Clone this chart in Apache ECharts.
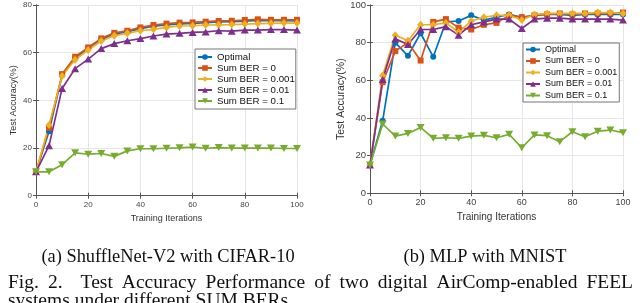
<!DOCTYPE html>
<html><head><meta charset="utf-8">
<script src="https://cdn.jsdelivr.net/npm/echarts@6/dist/echarts.min.js"></script>
<style>html,body{margin:0;padding:0;background:#fff}#c{width:640px;height:303px}</style>
</head><body><div id="c"></div>
<script>
// ---- data ----
const iters = [0, 5, 10, 15, 20, 25, 30, 35, 40, 45, 50, 55, 60, 65, 70, 75, 80, 85, 90, 95, 100];
const seriesNames = ['Optimal', 'Sum BER = 0', 'Sum BER = 0.001', 'Sum BER = 0.01', 'Sum BER = 0.1'];
const xTicks = [0, 20, 40, 60, 80, 100];
const leftYTicks = [0, 20, 40, 60, 80];
const rightYTicks = [0, 20, 40, 60, 80, 100];

// (a) ShuffleNet-V2 with CIFAR-10
const leftOptimal = [10, 27, 50.5, 57.8, 61.8, 65.5, 67.8, 68.8, 70.1, 71.1, 71.7, 72.1, 72.3, 72.6, 72.9, 73.0, 73.2, 73.5, 73.4, 73.4, 73.3];
const leftBER0    = [10, 28.5, 51, 58.3, 62.2, 66, 68.3, 69.2, 70.6, 71.6, 72.2, 72.6, 72.7, 73, 73.3, 73.4, 73.7, 74, 73.8, 73.8, 73.8];
const leftBER0001 = [10, 29.7, 50.2, 57, 61.1, 64.9, 67.1, 68.1, 69.2, 69.8, 70.6, 71.2, 71.3, 71.6, 71.7, 71.8, 72, 72.2, 72.3, 72.4, 72.4];
const leftBER001  = [10, 21, 45, 53.3, 57.3, 61.7, 63.8, 65, 65.9, 67, 67.8, 68.1, 68.5, 68.7, 69.2, 69, 69.5, 69.5, 69.7, 69.7, 69.5];
const leftBER01   = [10, 10, 13, 18, 17.4, 17.7, 16.5, 18.8, 19.7, 19.7, 19.9, 20.1, 20.4, 19.9, 20.2, 20, 20, 20, 20, 19.8, 19.8];

// (b) MLP with MNIST
const rightOptimal = [15, 38.5, 80, 73, 85, 72.5, 91, 91.5, 94.5, 92, 93.5, 95, 93.5, 94.5, 95, 95, 94.5, 95, 95, 95, 95];
const rightBER0    = [15, 59, 75.5, 80, 70.5, 91, 92.5, 88, 87, 89.5, 90.5, 94.5, 93.5, 94.5, 95, 95.5, 95, 95.5, 95.5, 95.5, 96];
const rightBER0001 = [15, 62.5, 84, 81, 89.5, 89.5, 90.5, 85.5, 91.5, 93.5, 94.5, 94.5, 92, 95, 95.5, 95.5, 95.5, 95.5, 96, 96, 95.5];
const rightBER001  = [15, 60.5, 82, 79, 87, 87, 88.5, 84, 89.5, 91, 92.5, 92.5, 87.5, 92.5, 93, 93, 92.5, 92.5, 92.5, 92.5, 92];
const rightBER01   = [15, 36.8, 30.4, 31.8, 35, 29.2, 29.5, 29.2, 30.4, 30.8, 29.5, 31.3, 24.2, 31, 30.6, 27.4, 32.7, 30, 33, 33.6, 32.2];

const captionA = '(a) ShuffleNet-V2 with CIFAR-10';
const captionB = '(b) MLP with MNIST';
const figLine1 = ['Fig.', '2.', 'Test', 'Accuracy', 'Performance', 'of', 'two', 'digital', 'AirComp-enabled', 'FEEL'];
const figLine2 = 'systems under different SUM BERs.';

const colors = ['#0072BD', '#D95319', '#EDB120', '#7E2F8E', '#77AC30'];
const symbols = ['circle', 'rect', 'diamond', 'triangle', 'path://M0,0L10,0L5,9Z'];
const symSizes = [6, 6, [7, 8], [8, 7], [8, 7]];

const leftData = [leftOptimal, leftBER0, leftBER0001, leftBER001, leftBER01];
const rightData = [rightOptimal, rightBER0, rightBER0001, rightBER001, rightBER01];

const FONT = '"Liberation Sans", Arial, sans-serif';
const SERIF = '"Liberation Serif", serif';

function mkSeries(arr, gi) {
  return arr.map((vals, k) => ({
    name: seriesNames[k],
    type: 'line',
    xAxisIndex: gi * 2,
    yAxisIndex: gi * 2,
    data: vals.map((v, i) => [iters[i], v]),
    symbol: symbols[k],
    symbolSize: symSizes[k],
    showSymbol: true,
    animation: false,
    lineStyle: { color: colors[k], width: 1.7 },
    itemStyle: { color: colors[k] },
    emphasis: { disabled: true }
  }));
}

function xAxes(gi, fs, nameFs, nameGap) {
  const axisColor = '#555';
  return [{
    gridIndex: gi, type: 'value', min: 0, max: 100, interval: 20, position: 'bottom',
    axisLine: { show: true, lineStyle: { color: axisColor, width: 1 } },
    axisTick: { show: true, inside: true, length: 3, lineStyle: { color: axisColor } },
    axisLabel: { fontSize: fs, color: '#444', margin: 5, fontFamily: FONT,
      formatter: v => xTicks.includes(v) ? String(v) : '' },
    splitLine: { show: true, lineStyle: { color: '#e6e6e6', width: 1 } },
    name: 'Training Iterations', nameLocation: 'middle', nameGap: nameGap,
    nameTextStyle: { fontSize: nameFs, color: '#333', fontFamily: FONT }
  }, {
    gridIndex: gi, type: 'value', min: 0, max: 100, interval: 20, position: 'top',
    axisLine: { show: true, lineStyle: { color: axisColor, width: 1 } },
    axisTick: { show: true, inside: true, length: 3, lineStyle: { color: axisColor } },
    axisLabel: { show: false }, splitLine: { show: false }
  }];
}

function yAxes(gi, max, ticks, fs, nameFs, nameGap) {
  const axisColor = '#555';
  return [{
    gridIndex: gi, type: 'value', min: 0, max: max, interval: 20, position: 'left',
    axisLine: { show: true, lineStyle: { color: axisColor, width: 1 } },
    axisTick: { show: true, inside: true, length: 3, lineStyle: { color: axisColor } },
    axisLabel: { fontSize: fs, color: '#444', margin: 4, fontFamily: FONT,
      formatter: v => ticks.includes(v) ? String(v) : '' },
    splitLine: { show: true, lineStyle: { color: '#e6e6e6', width: 1 } },
    name: 'Test Accuracy(%)', nameLocation: 'middle', nameGap: nameGap,
    nameTextStyle: { fontSize: nameFs, color: '#333', fontFamily: FONT }
  }, {
    gridIndex: gi, type: 'value', min: 0, max: max, interval: 20, position: 'right',
    axisLine: { show: true, lineStyle: { color: axisColor, width: 1 } },
    axisTick: { show: true, inside: true, length: 3, lineStyle: { color: axisColor } },
    axisLabel: { show: false }, splitLine: { show: false }
  }];
}

function mkLegend(left, top, fs, gap, pad, iw) {
  return {
    orient: 'vertical', left: left, top: top, selectedMode: false,
    data: seriesNames,
    itemWidth: iw, itemHeight: 7, itemGap: gap, padding: pad,
    backgroundColor: '#fff', borderColor: '#777', borderWidth: 1, borderRadius: 0,
    textStyle: { fontSize: fs, color: '#111', fontFamily: FONT }
  };
}

// justified caption line (word positions computed from measured widths)
function justified(words, x0, x1, y, fs) {
  const ctx = document.createElement('canvas').getContext('2d');
  ctx.font = fs + 'px ' + SERIF;
  const widths = words.map(w => ctx.measureText(w).width);
  const gapUnits = words.map((w, i) => i === 0 ? 0 : (i === 2 ? 2 : 1));
  const totalUnits = gapUnits.reduce((a, b) => a + b, 0);
  const gapW = (x1 - x0 - widths.reduce((a, b) => a + b, 0)) / totalUnits;
  let x = x0;
  return words.map((w, i) => {
    x += gapUnits[i] * gapW;
    const el = { type: 'text', x: x, y: y, style: { text: w, fontSize: fs, fontFamily: SERIF, fill: '#111', align: 'left', verticalAlign: 'middle' } };
    x += widths[i];
    return el;
  });
}

const chart = echarts.init(document.getElementById('c'), null, { renderer: 'canvas' });
chart.setOption({
  animation: false,
  backgroundColor: '#fff',
  grid: [
    { left: 36, top: 5, width: 261, height: 190.7, containLabel: false },
    { left: 370, top: 5, width: 253, height: 188.3, containLabel: false }
  ],
  xAxis: [...xAxes(0, 8, 9, 17), ...xAxes(1, 9, 10, 17)],
  yAxis: [...yAxes(0, 80, leftYTicks, 8, 9, 18), ...yAxes(1, 100, rightYTicks, 9.5, 10.5, 22)],
  legend: [mkLegend(195, 49, 9.7, 1, [3, 1, 3, 2], 14), mkLegend(523, 43, 9, 2.5, [2, 2, 2, 2], 14)],
  series: [...mkSeries(leftData, 0), ...mkSeries(rightData, 1)],
  graphic: [
    { type: 'text', x: 168, y: 257, style: { text: captionA, fontSize: 18.4, fontFamily: SERIF, fill: '#111', align: 'center', verticalAlign: 'middle' } },
    { type: 'text', x: 485, y: 257, style: { text: captionB, fontSize: 18.4, fontFamily: SERIF, fill: '#111', align: 'center', verticalAlign: 'middle' } },
    ...justified(figLine1, 8, 633, 283, 19.5),
    { type: 'text', x: 8, y: 301, style: { text: figLine2, fontSize: 19.5, fontFamily: SERIF, fill: '#111', align: 'left', verticalAlign: 'middle' } }
  ]
});
</script></body></html>
